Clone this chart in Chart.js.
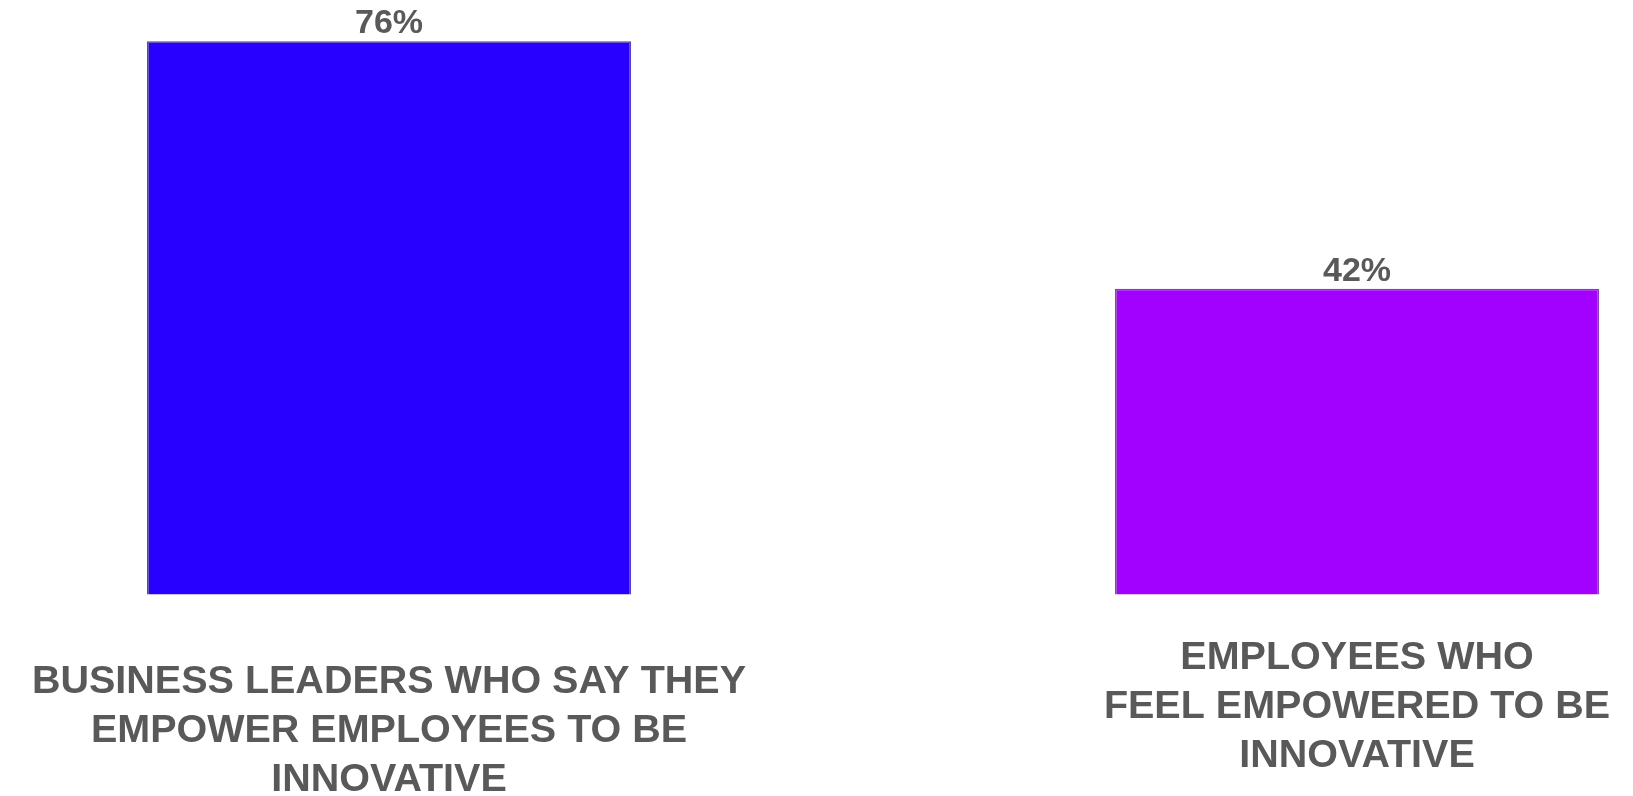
<!DOCTYPE html>
<html>
<head>
<meta charset="utf-8">
<title>Innovation empowerment</title>
<script src="https://cdn.jsdelivr.net/npm/chart.js@4/dist/chart.umd.min.js"></script>
<style>
  html, body { margin: 0; padding: 0; background: #ffffff; }
  #wrap { position: relative; width: 1633px; height: 796px; }
</style>
</head>
<body>
<div id="wrap"><canvas id="chart"></canvas></div>
<script>
// Category labels, one line per array entry. The first label starts with a
// blank line so that, with centred cross-alignment, it sits half a line lower.
const categories = [
  ["", "BUSINESS LEADERS WHO SAY THEY", "EMPOWER EMPLOYEES TO BE", "INNOVATIVE"],
  ["EMPLOYEES WHO", "FEEL EMPOWERED TO BE", "INNOVATIVE"]
];

// Share of respondents, in percent.
const values = [76, 42];

// Value axis range.
const valueTicks = { min: 0, max: 80 };

const barFill = ['#2700ff', '#a200ff'];
const barEdge = ['rgba(60,40,130,0.85)', 'rgba(100,40,140,0.85)'];
const textColor = '#595959';
const fontFamily = '"Liberation Sans", Arial, Helvetica, sans-serif';

// Writes each bar's value above it.
const valueLabels = {
  id: 'valueLabels',
  afterDatasetsDraw(chart) {
    const { ctx } = chart;
    chart.data.datasets.forEach((ds, di) => {
      const meta = chart.getDatasetMeta(di);
      meta.data.forEach((bar, i) => {
        ctx.save();
        ctx.font = 'bold 34px ' + fontFamily;
        ctx.fillStyle = textColor;
        ctx.textAlign = 'center';
        ctx.textBaseline = 'alphabetic';
        ctx.fillText(ds.data[i] + '%', bar.x, bar.y - 8);
        ctx.restore();
      });
    });
  }
};

new Chart(document.getElementById('chart'), {
  type: 'bar',
  data: {
    labels: categories,
    datasets: [{
      data: values,
      backgroundColor: barFill,
      borderColor: barEdge,
      borderWidth: 1.5,
      categoryPercentage: 1,
      barPercentage: 0.5,
      clip: false
    }]
  },
  options: {
    responsive: true,
    maintainAspectRatio: false,
    animation: false,
    layout: { padding: { top: 12, left: 389, right: 276, bottom: 0 } },
    plugins: {
      legend: { display: false },
      tooltip: { enabled: false },
      title: { display: false }
    },
    scales: {
      x: {
        offset: false,
        border: { display: false },
        // tick marks are hidden with the grid; their length only spaces the labels
        grid: { display: false, drawTicks: true, tickLength: 39 },
        ticks: {
          autoSkip: false,
          maxRotation: 0,
          minRotation: 0,
          crossAlign: 'center',
          padding: 0,
          color: textColor,
          font: { family: fontFamily, size: 39.5, weight: 'bold', lineHeight: '49px' }
        },
        afterFit(axis) { axis.height = 201.5; }
      },
      y: {
        display: false,
        min: valueTicks.min,
        max: valueTicks.max
      }
    }
  },
  plugins: [valueLabels]
});
</script>
</body>
</html>
